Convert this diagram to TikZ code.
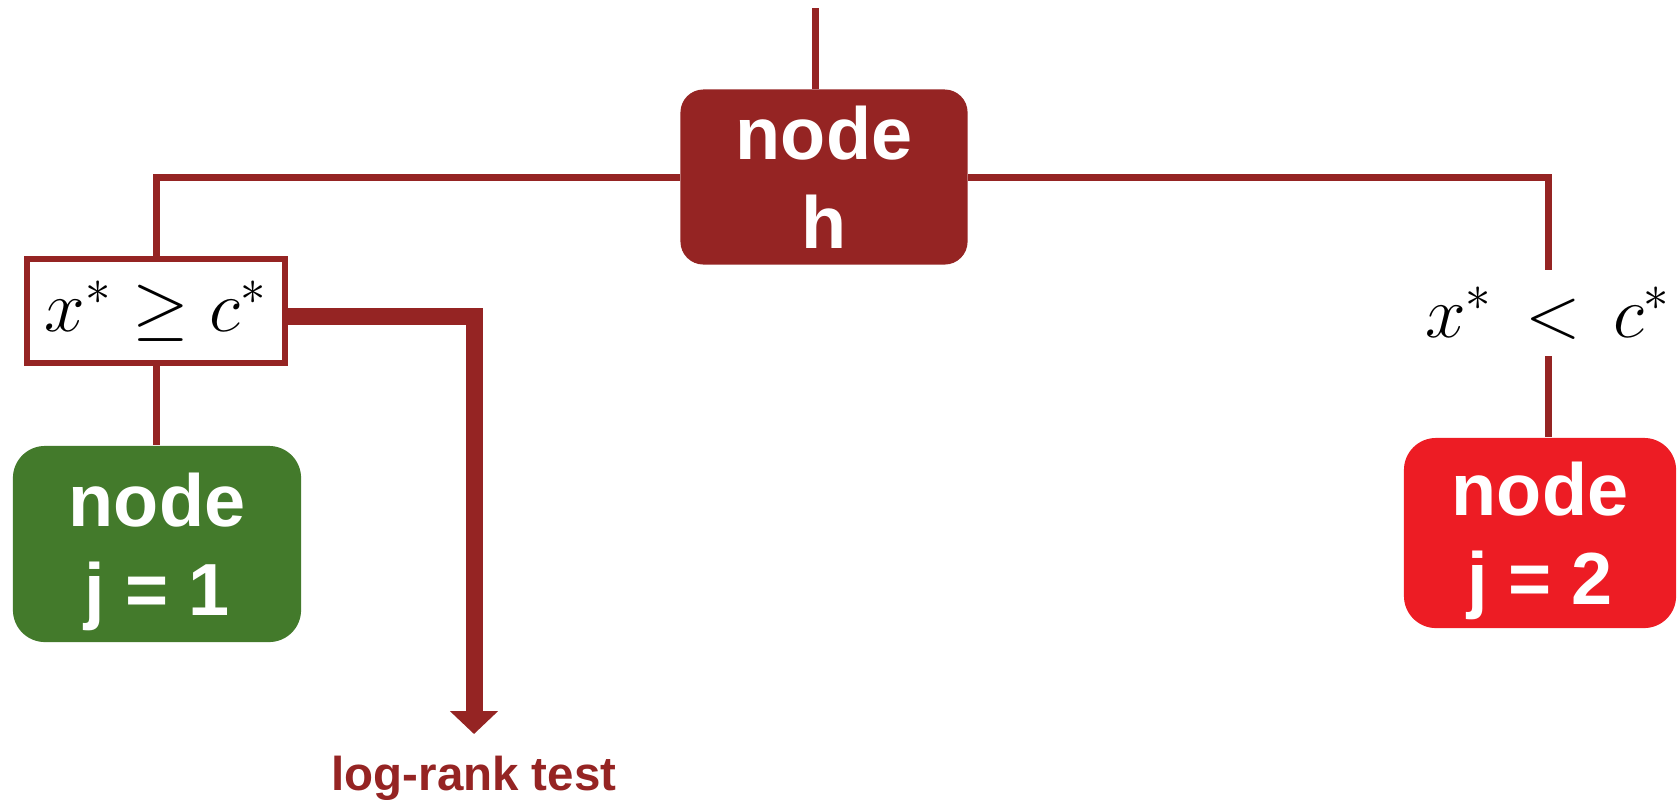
\documentclass[tikz,border=0pt]{standalone}
\usepackage[no-math]{fontspec}
\newfontfamily\boxfont{Liberation Sans}
\usetikzlibrary{arrows.meta}
\usetikzlibrary{positioning}
\definecolor{treered}{RGB}{149,36,35}
\definecolor{leafgreen}{RGB}{67,122,43}
\definecolor{leafred}{RGB}{237,28,36}
\tikzset{
	treenode/.style={
		rectangle,
		rounded corners=0.23cm,
		fill=treered,
		text=white,
		align=center,
		font={\boxfont\bfseries\fontsize{21}{25.3}\selectfont},
		text depth=0pt,
		inner sep=0pt},
	leaf/.style={treenode, rounded corners=0.32cm},
	split/.style={
		rectangle,
		draw=treered, line width=0.06cm,
		fill=white,
		inner sep=0pt,
		font={\fontsize{20.74}{25}\selectfont}},
	branch/.style={draw=treered, line width=0.07cm},
	testarrow/.style={draw=treered, line width=0.17cm, -{Triangle[width=0.47cm,length=0.23cm]}},
}
\begin{document}
\begin{tikzpicture}[x=0.01cm, y=-0.01cm]
	\useasboundingbox (0,0) rectangle (1677,799);
	% nodes
	\node[treenode, minimum width=2.87cm, minimum height=1.75cm] (nodeh) at (824,177) {node\\h};
	\node[split, minimum width=2.57cm, minimum height=1.03cm] (geq) at (156,311) {$x^*\geq c^*$};
	\node[leaf, fill=leafgreen, minimum width=2.88cm, minimum height=1.96cm] (jone) at (157,544) {node\\j = 1};
	\node[inner sep=0pt, minimum height=0.85cm, font={\fontsize{20.74}{25}\selectfont}] (lt) at (1548,313) {$x^*\,<\,c^*$};
	\node[leaf, fill=leafred, minimum width=2.72cm, minimum height=1.90cm] (jtwo) at (1540,533) {node\\j = 2};
	\coordinate (root) at (815,8);
	\coordinate (turn) at (474,316);
	\coordinate (tip) at (474,734);
	\node[below=0.21cm of tip, inner sep=0pt, text=treered,
		font={\boxfont\bfseries\fontsize{13.5}{16}\selectfont}] (logrank) {log-rank test};
	% branches
	\draw[branch] (root) -- (root |- nodeh.north);
	\draw[branch] (nodeh.west) -| (geq.north);
	\draw[branch] (geq.south) -- (geq.south |- jone.north);
	\draw[branch] (nodeh.east) -| (lt.north);
	\draw[branch] (lt.south) -- (lt.south |- jtwo.north);
	\draw[testarrow] (geq.east |- turn) -- (turn) -- (tip);
\end{tikzpicture}
\end{document}
